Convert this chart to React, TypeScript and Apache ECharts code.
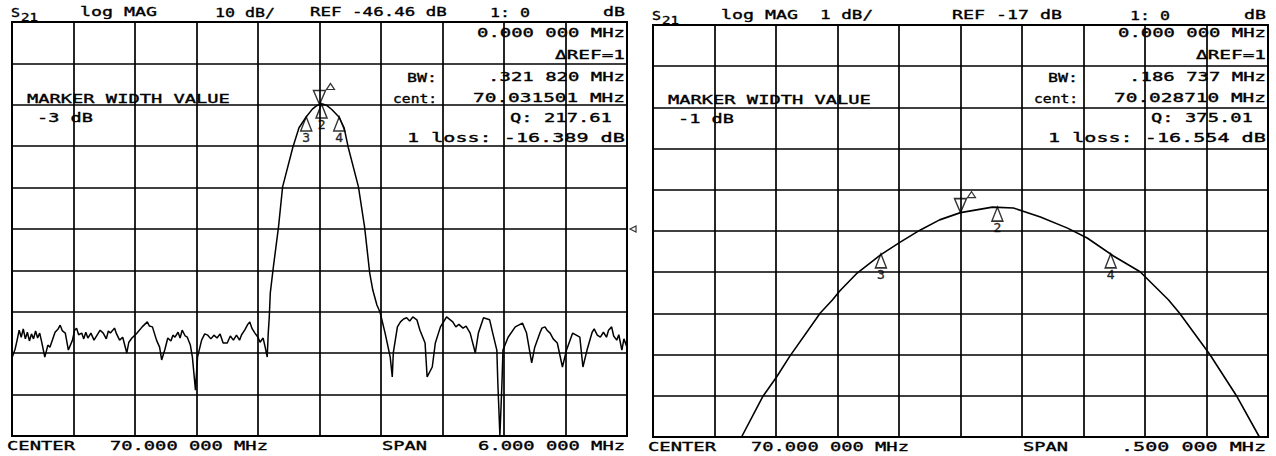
import React, { useEffect, useRef } from "react";
import * as echarts from "echarts";

// ---- Left panel: 10 dB/div, REF -46.46 dB, center 70 MHz, span 6 MHz ----
const wideFreq = [
  67.0, 67.01, 67.03, 67.05, 67.07, 67.09, 67.11, 67.13, 67.15, 67.17, 67.19, 67.21, 67.23, 67.25, 67.27,
  67.29, 67.32, 67.35, 67.37, 67.42, 67.45, 67.47, 67.49, 67.52, 67.55, 67.59, 67.61, 67.63, 67.65, 67.68,
  67.7, 67.72, 67.74, 67.77, 67.8, 67.83, 67.86, 67.89, 67.92, 67.94, 67.96, 68.0, 68.02, 68.05, 68.08,
  68.12, 68.14, 68.17, 68.2, 68.22, 68.27, 68.32, 68.34, 68.37, 68.41, 68.44, 68.46, 68.49, 68.52, 68.55,
  68.57, 68.59, 68.62, 68.64, 68.66, 68.69, 68.71, 68.74, 68.76, 68.79, 68.81, 68.85, 68.88, 68.91, 68.94,
  68.97, 69.0, 69.03, 69.06, 69.1, 69.13, 69.16, 69.19, 69.22, 69.24, 69.27, 69.3, 69.32, 69.34, 69.37,
  69.4, 69.42, 69.45, 69.47, 69.49, 69.5, 69.51, 69.52, 69.55, 69.6, 69.64, 69.74, 69.8, 69.87, 69.93,
  69.97, 70.0, 70.03, 70.07, 70.12, 70.19, 70.24, 70.28, 70.38, 70.44, 70.49, 70.52, 70.56, 70.59, 70.64,
  70.69, 70.71, 70.72, 70.76, 70.79, 70.82, 70.85, 70.88, 70.91, 70.95, 70.98, 71.03, 71.05, 71.1, 71.13,
  71.18, 71.24, 71.3, 71.33, 71.36, 71.4, 71.43, 71.47, 71.52, 71.55, 71.6, 71.66, 71.69, 71.73, 71.74,
  71.76, 71.78, 71.79, 71.84, 71.91, 71.98, 72.02, 72.07, 72.1, 72.15, 72.17, 72.2, 72.22, 72.25, 72.28,
  72.32, 72.37, 72.41, 72.47, 72.54, 72.57, 72.61, 72.66, 72.68, 72.71, 72.74, 72.77, 72.8, 72.82, 72.85,
  72.87, 72.9, 72.92, 72.95, 72.97, 73.0,
];
const wideDb = [
  -77.6, -76.9, -75.5, -73.3, -70.9, -72.6, -70.6, -73.0, -71.4, -73.5, -71.8, -73.0, -71.1, -72.8, -71.6,
  -73.8, -77.4, -74.5, -75.0, -71.4, -70.6, -69.7, -71.0, -71.6, -75.7, -73.3, -71.0, -70.4, -72.0, -71.6,
  -73.0, -71.4, -72.8, -71.6, -73.3, -72.1, -70.9, -71.6, -73.0, -71.1, -71.6, -70.4, -71.8, -73.3, -72.6,
  -76.4, -73.8, -72.8, -72.1, -71.6, -70.1, -68.9, -69.9, -70.1, -73.3, -75.0, -78.1, -75.7, -72.8, -73.5,
  -72.1, -72.6, -71.4, -72.8, -70.9, -72.3, -72.6, -74.5, -77.4, -85.4, -77.4, -73.3, -71.8, -72.1, -73.0,
  -72.1, -72.8, -71.8, -74.0, -74.0, -72.3, -73.3, -72.1, -73.3, -72.0, -70.9, -69.5, -68.9, -70.4, -71.6,
  -72.6, -73.8, -72.8, -75.0, -77.4, -71.6, -67.7, -61.9, -55.6, -46.0, -36.3, -26.7, -22.0, -19.4, -17.5,
  -16.7, -16.39, -16.25, -16.6, -17.6, -19.4, -22.0, -26.7, -36.3, -46.0, -57.1, -61.2, -64.8, -66.5, -71.6,
  -77.4, -82.2, -76.4, -70.1, -68.9, -68.2, -67.9, -68.7, -67.7, -68.4, -70.9, -74.0, -82.2, -79.8, -74.0,
  -70.1, -67.7, -68.9, -70.1, -69.5, -70.4, -69.9, -71.6, -76.4, -71.6, -67.9, -68.4, -71.6, -75.7, -83.7,
  -96.4, -83.7, -75.7, -72.6, -70.1, -69.2, -71.6, -78.8, -75.0, -71.6, -70.4, -70.1, -70.9, -71.6, -73.0,
  -74.0, -79.8, -75.7, -71.6, -72.6, -79.8, -75.7, -71.4, -70.6, -72.1, -72.6, -71.4, -72.6, -70.9, -70.1,
  -72.3, -73.3, -72.0, -75.7, -73.0, -75.0,
];
const wideMarkerFreq = [70.0, 70.02, 69.8705, 70.1924];
const wideMarkerDb = [-16.389, -16.27, -19.4, -19.4];

// ---- Right panel: 1 dB/div, REF -17 dB, center 70 MHz, span 0.5 MHz ----
const narrowFreq = [
  69.75, 69.822, 69.839, 69.851, 69.861, 69.886, 69.896, 69.902, 69.916, 69.935, 69.951, 69.967, 69.983,
  70.0, 70.026, 70.043, 70.065, 70.087, 70.103, 70.124, 70.146, 70.169, 70.178, 70.203, 70.225, 70.243, 70.25,
];
const narrowDb = [
  -22.0, -22.0, -21.03, -20.52, -20.05, -18.99, -18.67, -18.45, -18.02, -17.58, -17.27, -16.98, -16.73,
  -16.554, -16.42, -16.44, -16.66, -16.93, -17.17, -17.6, -17.99, -18.67, -18.99, -20.01, -21.03, -22.0, -22.0,
];
const narrowMarkerFreq = [70.0, 70.03, 69.9353, 70.1221];
const narrowMarkerDb = [-16.554, -16.42, -17.554, -17.554];
const markerNames = ["1", "2", "3", "4"];

const FONT = '"DejaVu Sans Mono", monospace';

function txt(text: string, x: number, y: number, align: string, width?: number, size = 12.5) {
  const natural = text.length * 0.602 * size;
  const sx = width ? width / natural : 1.5;
  return {
    type: "text",
    x,
    y,
    scaleX: sx,
    silent: true,
    z: 100,
    style: {
      text,
      font: `${size}px ${FONT}`,
      fill: "#000",
      stroke: "#000",
      lineWidth: 0.35,
      align,
      verticalAlign: "middle",
      textAlign: align,
      textVerticalAlign: "middle",
    },
  };
}

function panelTexts(o: any) {
  const L = o.left;
  const R = o.right;
  return [
    txt("S", L - 1, o.hy, "left", 9, 13),
    txt("21", L + 9, o.hy + 5, "left", 17, 11),
    txt("log MAG", L + 68, o.hy, "left", 77),
    txt(o.scale, o.scaleX, o.hy, "left", o.scaleW),
    txt(o.ref, o.refX, o.hy, "left", o.refW),
    txt("1: 0", o.oneX, o.hy, "left", 40),
    txt("dB", R - 2, o.hy, "right", 22),
    txt("0.000 000 MHz", R - 2, 33, "right", 148),
    txt("\u0394REF=1", R - 2, 55, "right", 70),
    txt("BW:", R - 190, 77, "right", 30),
    txt(o.bw, R - 2, 77, "right", 137),
    txt("cent:", R - 190, 98, "right", 44),
    txt(o.cent, R - 2, 98, "right", 152),
    txt(o.q, R - 117, 118, "left", 102),
    txt(o.loss, R - 220, 138, "left", 218),
    txt("MARKER WIDTH VALUE", L + 15, o.my, "left", 203),
    txt(o.mw, L + 25, o.my + 19, "left", 56),
    txt("CENTER", L - 5, o.fy, "left", 68),
    txt("70.000 000 MHz", L + 98, o.fy, "left", 158),
    txt("SPAN", L + 370, o.fy, "left", 45),
    txt(o.span, R - 2, o.fy, "right", o.spanW),
  ];
}

function gridAxes(gridIndex: number) {
  return {
    type: "value",
    gridIndex,
    min: 0,
    max: 10,
    interval: 1,
    axisLine: { show: false },
    axisTick: { show: false },
    axisLabel: { show: false },
    splitLine: { show: true, lineStyle: { color: "#000", width: 1.7 } },
  };
}

function markerSeries(xi: number, freq: number[], db: number[]) {
  const pts = freq.map((f, i) => ({ name: markerNames[i], value: [f, db[i]] }));
  const s: any[] = [
    {
      type: "scatter",
      xAxisIndex: xi,
      yAxisIndex: xi,
      data: pts.slice(1),
      symbol: "triangle",
      symbolSize: [11, 14],
      symbolOffset: [0, 7],
      itemStyle: { color: "rgba(255,255,255,0)", borderColor: "#000", borderWidth: 1.5 },
      label: {
        show: true,
        position: "bottom",
        distance: -1,
        formatter: "{b}",
        color: "#000",
        fontFamily: FONT,
        fontSize: 13,
        textBorderColor: "#000",
        textBorderWidth: 0.4,
      },
      z: 5,
    },
    {
      type: "scatter",
      xAxisIndex: xi,
      yAxisIndex: xi,
      data: pts.slice(0, 1),
      symbol: "path://M0 0L10 0L5 12Z",
      symbolSize: [12, 14],
      symbolOffset: [0, -7],
      itemStyle: { color: "rgba(255,255,255,0)", borderColor: "#000", borderWidth: 1.5 },
      z: 5,
    },
    {
      type: "scatter",
      xAxisIndex: xi,
      yAxisIndex: xi,
      data: pts.slice(0, 1),
      symbol: "triangle",
      symbolSize: [8, 6],
      symbolOffset: [11, -18],
      itemStyle: { color: "rgba(255,255,255,0)", borderColor: "#000", borderWidth: 1.2 },
      z: 5,
    },
  ];
  return s;
}

export default function App() {
  const ref = useRef<HTMLDivElement>(null);
  useEffect(() => {
    document.body.style.margin = "0";
    const chart = echarts.init(ref.current!, undefined, { renderer: "svg" });
    const grids = [
      { left: 12, top: 22, width: 615, height: 414 },
      { left: 653, top: 25, width: 615, height: 412 },
    ];
    const option: any = {
      animation: false,
      backgroundColor: "#fff",
      grid: grids.map((g) => ({ ...g, show: true, borderColor: "#000", borderWidth: 2, backgroundColor: "#fff" })),
      xAxis: [
        { type: "value", gridIndex: 0, min: 67, max: 73, show: false },
        { type: "value", gridIndex: 1, min: 69.75, max: 70.25, show: false },
        gridAxes(0),
        gridAxes(1),
      ],
      yAxis: [
        { type: "value", gridIndex: 0, min: -96.46, max: 3.54, show: false },
        { type: "value", gridIndex: 1, min: -22, max: -12, show: false },
        gridAxes(0),
        gridAxes(1),
      ],
      series: [
        {
          type: "line",
          xAxisIndex: 0,
          yAxisIndex: 0,
          data: wideFreq.map((f, i) => [f, wideDb[i]]),
          showSymbol: false,
          lineStyle: { color: "#000", width: 1.5 },
          z: 4,
        },
        {
          type: "line",
          xAxisIndex: 1,
          yAxisIndex: 1,
          data: narrowFreq.map((f, i) => [f, narrowDb[i]]),
          showSymbol: false,
          lineStyle: { color: "#000", width: 1.6 },
          z: 4,
        },
        ...markerSeries(0, wideMarkerFreq, wideMarkerDb),
        ...markerSeries(1, narrowMarkerFreq, narrowMarkerDb),
        {
          type: "scatter",
          xAxisIndex: 0,
          yAxisIndex: 0,
          data: [[73, -46.46]],
          symbol: "triangle",
          symbolRotate: 90,
          symbolSize: 6,
          symbolOffset: [6, 0],
          itemStyle: { color: "rgba(255,255,255,0)", borderColor: "#000", borderWidth: 1.2 },
        },
      ],
      graphic: [
        ...panelTexts({
          left: 12, right: 627, hy: 12, my: 99, fy: 446,
          scale: "10 dB/", scaleX: 215, scaleW: 60,
          ref: "REF -46.46 dB", refX: 310, refW: 137, oneX: 490,
          bw: ".321 820 MHz", cent: "70.031501 MHz", q: "Q: 217.61",
          loss: "1 loss: -16.389 dB", mw: "-3 dB", span: "6.000 000 MHz", spanW: 147,
        }),
        ...panelTexts({
          left: 653, right: 1268, hy: 15, my: 100, fy: 447,
          scale: "1 dB/", scaleX: 820, scaleW: 53,
          ref: "REF -17 dB", refX: 952, refW: 110, oneX: 1130,
          bw: ".186 737 MHz", cent: "70.028710 MHz", q: "Q: 375.01",
          loss: "1 loss: -16.554 dB", mw: "-1 dB", span: ".500 000 MHz", spanW: 145,
        }),
      ],
    };
    chart.setOption(option);
    return () => chart.dispose();
  }, []);
  return (
    <div
      ref={ref}
      style={{ position: "fixed", left: 0, top: 0, width: 1276, height: 456, background: "#fff" }}
    />
  );
}
